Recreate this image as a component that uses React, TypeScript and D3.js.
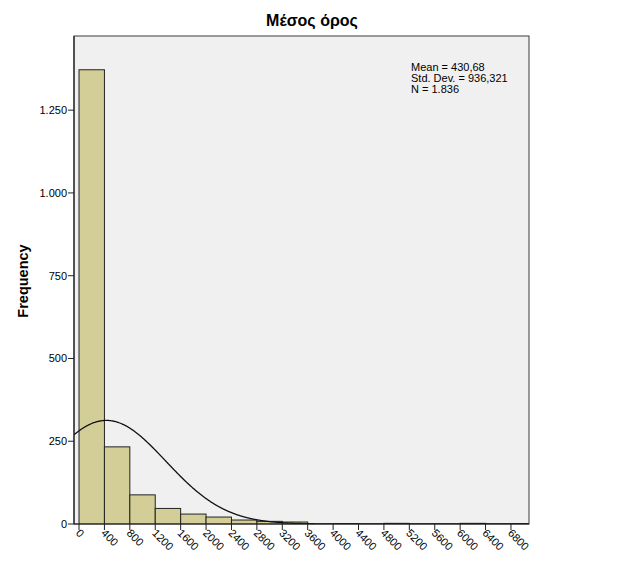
import React from "react";
import * as d3 from "d3";

const binStarts = [0, 400, 800, 1200, 1600, 2000, 2400, 2800, 3200, 3600, 4000, 4400, 4800, 5200, 5600, 6000, 6400, 6800];
const counts = [1372, 233, 88, 47, 30, 21, 12, 8, 6, 0, 1, 0, 2, 0, 0, 2, 0, 1];
const binWidth = 400;
const xTicks = [0, 400, 800, 1200, 1600, 2000, 2400, 2800, 3200, 3600, 4000, 4400, 4800, 5200, 5600, 6000, 6400, 6800];
const yTicks = [0, 250, 500, 750, 1000, 1250];
const yTickLabels = ["0", "250", "500", "750", "1.000", "1.250"];
const statLines = ["Mean = 430,68", "Std. Dev. = 936,321", "N = 1.836"];
const mean = 430.68;
const sd = 936.321;
const n = 1836;

export default function App() {
  const W = 621, H = 564;
  const left = 74, right = 529, top = 36, bottom = 524;
  const x = d3.scaleLinear().domain([-79, 7084]).range([left, right]);
  const y = d3.scaleLinear().domain([0, 1474]).range([bottom, top]);
  const pdf = (v: number) => (n * binWidth) / (sd * Math.sqrt(2 * Math.PI)) * Math.exp(-0.5 * ((v - mean) / sd) ** 2);
  const pts = d3.range(-79, 7084, 10).map((v) => [x(v), y(pdf(v))] as [number, number]);
  const line = d3.line()(pts) || "";
  const font = "'Liberation Sans', Arial, sans-serif";
  return (
    <svg width={W} height={H} style={{ position: "absolute", left: 0, top: 0, background: "#fff" }} fontFamily={font}>
      <defs>
        <clipPath id="plotclip">
          <rect x={left} y={top} width={right - left} height={bottom - top} />
        </clipPath>
      </defs>
      <rect x={0} y={0} width={W} height={H} fill="#fff" />
      <text x={312} y={26} textAnchor="middle" fontSize={16} fontWeight="bold" fill="#000">Μέσος όρος</text>
      <rect x={left} y={top} width={right - left} height={bottom - top} fill="#f0f0f0" stroke="#3a3a3a" strokeWidth={1} />
      <g clipPath="url(#plotclip)">
        {binStarts.map((b, i) => (
          <rect key={i} x={x(b)} y={y(counts[i])} width={x(b + binWidth) - x(b)} height={bottom - y(counts[i])}
            fill="#d3ce98" stroke="#222" strokeWidth={1} />
        ))}
        <path d={line} fill="none" stroke="#111" strokeWidth={1.3} />
      </g>
      <line x1={left} x2={left} y1={top} y2={bottom} stroke="#222" strokeWidth={1.2} />
      <line x1={left} x2={right} y1={bottom} y2={bottom} stroke="#222" strokeWidth={1.2} />
      {yTicks.map((t, i) => (
        <g key={t}>
          <line x1={left - 6} x2={left} y1={y(t)} y2={y(t)} stroke="#222" />
          <text x={left - 7} y={y(t) + 4} textAnchor="end" fontSize={11} fill="#000">{yTickLabels[i]}</text>
        </g>
      ))}
      {xTicks.map((t) => (
        <g key={t}>
          <line x1={x(t)} x2={x(t)} y1={bottom} y2={bottom + 6} stroke="#222" />
          <text transform={`translate(${x(t) - 1},${bottom + 7}) rotate(45)`} x={0} y={4} textAnchor="start" fontSize={11} fill="#000">{t}</text>
        </g>
      ))}
      <text transform={`translate(28,281) rotate(-90)`} textAnchor="middle" fontSize={14.5} fontWeight="bold" fill="#000">Frequency</text>
      {statLines.map((s, i) => (
        <text key={i} x={411} y={71 + i * 11} fontSize={11} fill="#000">{s}</text>
      ))}
    </svg>
  );
}
